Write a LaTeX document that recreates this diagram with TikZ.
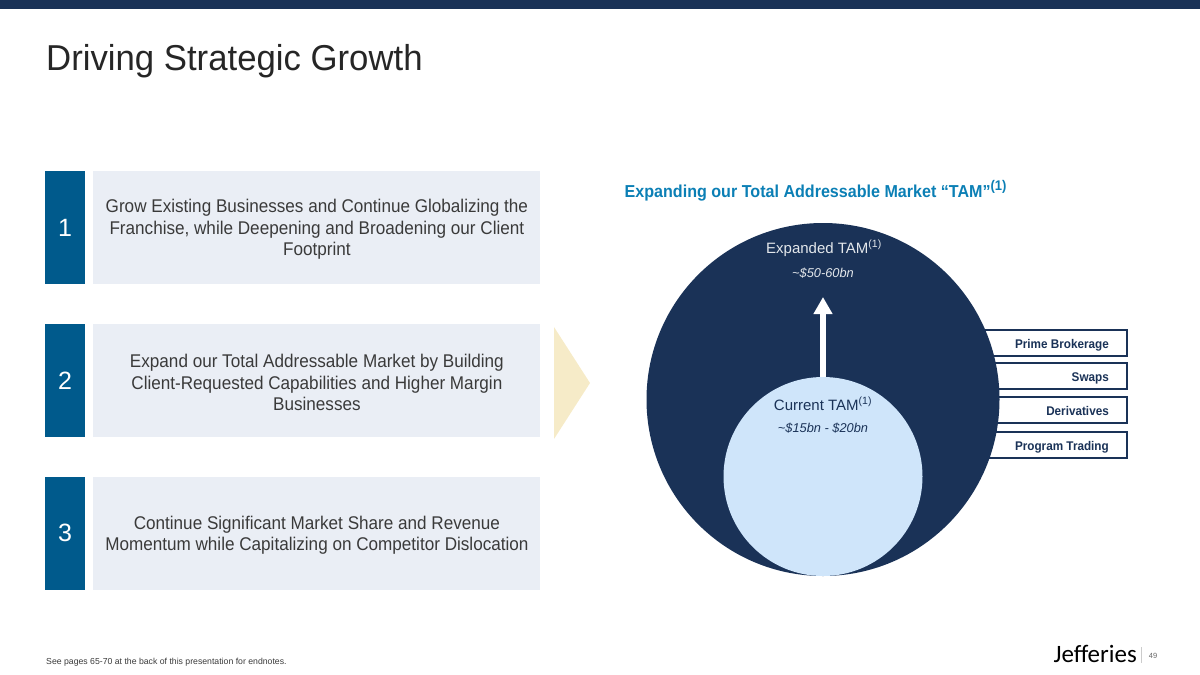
\documentclass[tikz,border=0pt]{standalone}
\usepackage{fontspec}
\setmainfont{Liberation Sans}
\newfontfamily\narrowfont[FakeStretch=0.93]{Liberation Sans}
\newfontfamily\titlefont[FakeStretch=0.965]{Liberation Sans}
\newfontfamily\logofont{Carlito}
\usepackage{tikz}
\usetikzlibrary{positioning,arrows.meta}
\definecolor{navy}{HTML}{1A3257}
\definecolor{numblue}{HTML}{005A8C}
\definecolor{panelgrey}{HTML}{EAEEF5}
\definecolor{paleblue}{HTML}{CFE5FA}
\definecolor{creamy}{HTML}{F6EBC8}
\definecolor{headblue}{HTML}{0B7FB5}
\definecolor{bodytext}{HTML}{3A3A3A}
\tikzset{
  numbox/.style={fill=numblue, text=white, minimum width=40pt, minimum height=113pt, inner sep=0pt, font=\fontsize{25}{25}\selectfont},
  panel/.style={fill=panelgrey, minimum width=447pt, minimum height=113pt, inner sep=0pt},
  paneltext/.style={text=bodytext, inner sep=0pt, align=center, font=\narrowfont\fontsize{18.4}{21.5}\selectfont},
  tab/.style={draw=navy, line width=1.6pt, fill=white, minimum width=170pt, minimum height=26pt, inner sep=0pt},
  tabtext/.style={text=navy, inner sep=0pt, font=\narrowfont\fontsize{12.6}{14}\selectfont\bfseries},
  tamlabel/.style={inner sep=0pt, font=\fontsize{15}{18}\selectfont},
  tamvalue/.style={inner sep=0pt, font=\fontsize{12.8}{15}\selectfont\itshape}
}
\begin{document}
\begin{tikzpicture}[x=1pt, y=-1pt]
\useasboundingbox (0,0) rectangle (1200,675);
\fill[navy] (0,0) rectangle (1200,9);
\node[anchor=base west, inner sep=0pt, text=black!85, font=\titlefont\fontsize{36}{36}\selectfont] (title) at (46,70) {Driving Strategic Growth};

% left column, one row per growth item
\foreach \y/\txt [count=\i] in {227.5/{Grow Existing Businesses and Continue Globalizing the\\Franchise, while Deepening and Broadening our Client\\Footprint},
  380.5/{Expand our Total Addressable Market by Building\\Client-Requested Capabilities and Higher Margin\\Businesses},
  533/{Continue Significant Market Share and Revenue\\Momentum while Capitalizing on Competitor Dislocation}} {
  \node[numbox] (num\i) at (65,\y) {\i};
  \node[panel, right=8pt of num\i] (panel\i) {};
  \node[paneltext] (paneltext\i) at ([yshift=-2pt]panel\i.center) {\txt};
}
\fill[creamy] (554,327) -- (590,383) -- (554,439) -- cycle;

\node[anchor=base west, inner sep=0pt, text=headblue, font=\narrowfont\fontsize{17.3}{17}\selectfont\bfseries] (tamhead) at (624.5,197) {Expanding our Total Addressable Market “TAM”\textsuperscript{\fontsize{14}{14}\selectfont(1)}};

% tabs sit behind the big circle
\foreach \y/\txt [count=\i] in {343/Prime Brokerage,376/Swaps,410/Derivatives,445/Program Trading} {
  \node[tab, anchor=east] (tab\i) at (1128,\y) {};
  \node[tabtext, anchor=base east] (tabtext\i) at (1109,\y+5.5) {\txt};
}

\node[circle, fill=navy, minimum size=353pt, inner sep=0pt] (expanded) at (823,399.5) {};
\node[circle, fill=paleblue, minimum size=199pt, inner sep=0pt] (current) at (823,476.5) {};
\coordinate (arrowtip) at (823,297);
\draw[-{Triangle[length=17pt,width=18pt]}, white, line width=6pt] (current.north) -- (arrowtip);

\node[tamlabel, text=white!88!navy, anchor=base] (expandedlabel) at (824,253) {Expanded TAM\textsuperscript{(1)}};
\node[tamvalue, text=white!88!navy, anchor=base] (expandedvalue) at (823,277) {\textasciitilde\$50-60bn};
\node[tamlabel, text=navy, anchor=base] (currentlabel) at (823,410) {Current TAM\textsuperscript{(1)}};
\node[tamvalue, text=navy, anchor=base] (currentvalue) at (823,432) {\textasciitilde\$15bn - \$20bn};

\node[anchor=base west, inner sep=0pt, text=bodytext, font=\fontsize{8.7}{10}\selectfont] (footnote) at (46,664) {See pages 65-70 at the back of this presentation for endnotes.};
\node[anchor=base east, inner sep=0pt, text=black, font=\fontsize{25}{25}\selectfont\logofont] (logo) at (1137,662) {Jefferies};
\draw[black!20, line width=0.7pt] (1141,647) -- (1141,663);
\node[anchor=base, inner sep=0pt, text=black!60, font=\fontsize{7.5}{8}\selectfont] (pagenum) at (1153,658) {49};
\end{tikzpicture}
\end{document}
